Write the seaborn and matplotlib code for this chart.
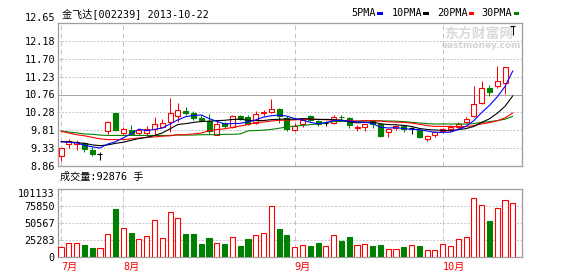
import numpy as np
import pandas as pd
import matplotlib
matplotlib.use("Agg")
import matplotlib.pyplot as plt
from matplotlib.patches import Rectangle
import seaborn as sns

# ---------------- data ----------------
open_ = [9.12, 9.43, 9.43, 9.46, 9.29, 9.19, 9.80, 10.26, 9.73, 9.81,
         9.73, 9.73, 9.83, 9.90, 10.03, 10.19, 10.32, 10.26, 10.12, 10.04,
         9.69, 9.99, 9.89, 10.19, 10.15, 9.99, 10.26, 10.29, 10.38, 10.12,
         9.82, 9.96, 10.18, 10.05, 10.00, 10.00, 10.17, 10.13, 9.88, 9.89,
         10.05, 9.97, 9.75, 9.87, 9.91, 9.87, 9.81, 9.57, 9.68, 9.78,
         9.84, 9.89, 10.02, 10.19, 10.52, 10.94, 10.99, 11.07, 12.56]
high = [9.35, 9.58, 9.55, 9.50, 9.37, 9.24, 10.04, 10.27, 9.89, 9.95,
        9.85, 9.91, 10.17, 10.10, 10.67, 10.54, 10.43, 10.31, 10.21, 10.23,
        10.05, 10.02, 10.21, 10.22, 10.21, 10.31, 10.35, 10.64, 10.40, 10.18,
        10.00, 10.13, 10.22, 10.08, 10.05, 10.20, 10.22, 10.16, 9.95, 9.98,
        10.09, 9.99, 9.85, 9.95, 9.95, 9.90, 9.83, 9.69, 9.79, 9.87,
        9.95, 10.03, 10.17, 10.98, 11.11, 11.01, 11.51, 11.49, 12.56]
low = [9.00, 9.33, 9.28, 9.24, 9.13, 9.01, 9.72, 9.80, 9.68, 9.70,
       9.68, 9.66, 9.68, 9.86, 9.77, 10.03, 10.21, 10.09, 10.03, 9.71,
       9.67, 9.88, 9.86, 10.07, 9.95, 9.96, 10.18, 10.26, 9.99, 9.78,
       9.78, 9.89, 10.05, 9.93, 9.92, 9.96, 10.06, 9.86, 9.80, 9.80,
       9.87, 9.63, 9.62, 9.82, 9.75, 9.72, 9.61, 9.52, 9.64, 9.74,
       9.77, 9.84, 10.00, 10.17, 10.50, 10.72, 10.94, 10.77, 12.32]
close = [9.34, 9.51, 9.50, 9.31, 9.18, 9.19, 10.03, 9.81, 9.83, 9.71,
         9.81, 9.83, 9.97, 10.01, 10.26, 10.34, 10.26, 10.13, 10.08, 9.78,
         9.97, 9.91, 10.19, 10.10, 9.97, 10.24, 10.28, 10.37, 10.18, 9.84,
         9.91, 10.09, 10.07, 9.98, 10.00, 10.16, 10.15, 9.94, 9.89, 9.97,
         9.98, 9.66, 9.84, 9.93, 9.85, 9.87, 9.63, 9.66, 9.76, 9.84,
         9.90, 9.97, 10.10, 10.50, 10.92, 10.83, 11.11, 11.48, 12.56]
volume = [14873, 20822, 20822, 18343, 13881, 13881, 34207, 71884, 43130, 36190,
          26771, 31232, 55028, 28754, 66926, 58003, 34703, 34703, 19830, 28754,
          20822, 19830, 29745, 16856, 27266, 32720, 35694, 75850, 42139, 33215,
          14873, 17847, 16856, 21317, 16360, 32720, 24292, 30241, 17847, 19334,
          16856, 18343, 12394, 12394, 15368, 17847, 16856, 10907, 10907, 19334,
          16856, 26771, 29745, 87748, 77337, 54037, 72875, 84773, 80312]
ma5 = [9.50, 9.49, 9.47, 9.41, 9.368, 9.338, 9.442, 9.504, 9.608, 9.714,
       9.838, 9.798, 9.83, 9.866, 9.976, 10.082, 10.168, 10.2, 10.214, 10.118,
       10.044, 9.974, 9.986, 9.99, 10.028, 10.082, 10.156, 10.192, 10.208, 10.182,
       10.116, 10.078, 10.018, 9.978, 10.01, 10.06, 10.072, 10.046, 10.028, 10.022,
       9.986, 9.888, 9.868, 9.876, 9.852, 9.83, 9.824, 9.788, 9.754, 9.752,
       9.758, 9.826, 9.914, 10.062, 10.278, 10.464, 10.692, 10.968, 11.38]
ma10 = [9.505, 9.505, 9.48, 9.46, 9.42, 9.40, 9.42, 9.46, 9.49, 9.541,
        9.588, 9.62, 9.667, 9.737, 9.845, 9.96, 9.983, 10.015, 10.04, 10.047,
        10.063, 10.071, 10.093, 10.102, 10.073, 10.063, 10.065, 10.089, 10.099, 10.105,
        10.099, 10.117, 10.105, 10.093, 10.096, 10.088, 10.075, 10.032, 10.003, 10.016,
        10.023, 9.98, 9.957, 9.952, 9.937, 9.908, 9.856, 9.828, 9.815, 9.802,
        9.794, 9.825, 9.851, 9.908, 10.015, 10.111, 10.259, 10.441, 10.721]
ma20 = [9.78, 9.735, 9.69, 9.66, 9.62, 9.58, 9.56, 9.56, 9.56, 9.58,
        9.60, 9.62, 9.63, 9.65, 9.66, 9.69, 9.69, 9.71, 9.735, 9.794,
        9.826, 9.846, 9.88, 9.92, 9.959, 10.012, 10.024, 10.052, 10.07, 10.076,
        10.081, 10.094, 10.099, 10.098, 10.085, 10.076, 10.07, 10.061, 10.051, 10.061,
        10.061, 10.049, 10.031, 10.023, 10.017, 9.998, 9.966, 9.93, 9.909, 9.909,
        9.909, 9.903, 9.904, 9.93, 9.976, 10.01, 10.058, 10.135, 10.268]
ma30 = [9.79, 9.76, 9.74, 9.71, 9.70, 9.68, 9.67, 9.67, 9.67, 9.67,
        9.67, 9.67, 9.67, 9.67, 9.67, 9.68, 9.68, 9.68, 9.69, 9.69,
        9.69, 9.70, 9.70, 9.71, 9.79, 9.80, 9.81, 9.83, 9.86, 9.898,
        9.917, 9.936, 9.955, 9.977, 10.005, 10.037, 10.041, 10.045, 10.047, 10.056,
        10.062, 10.056, 10.052, 10.049, 10.035, 10.02, 9.999, 9.983, 9.972, 9.974,
        9.972, 9.974, 9.971, 9.984, 10.016, 10.036, 10.063, 10.1, 10.18]

month_labels = ["7月", "8月", "9月", "10月"]
month_start_idx = [0, 8, 30, 49]
price_tick_labels = ["8.86", "9.33", "9.81", "10.28", "10.76", "11.23", "11.70", "12.18", "12.65"]
vol_tick_labels = ["0", "25283", "50567", "75850", "101133"]
title_text = "金飞达[002239] 2013-10-22"
vol_text = "成交量:92876 手"
legend_names = ["5PMA", "10PMA", "20PMA", "30PMA"]

# ---------------- style ----------------
sns.set_style("white")
FAM = ["DejaVu Sans Mono", "Noto Sans CJK SC"]
plt.rcParams["font.family"] = FAM
plt.rcParams["axes.unicode_minus"] = False

W, H = 578, 276
RED, GREEN, BLUE, BLACK = "#ff0000", "#008000", "#0000ff", "#000000"
FRAME = "#a0a0a0"
PX = 72 / 100.0  # one pixel in points

df = pd.DataFrame({"i": np.arange(len(close)), "open": open_, "high": high,
                   "low": low, "close": close, "volume": volume,
                   "MA5": ma5, "MA10": ma10, "MA20": ma20, "MA30": ma30})

fig = plt.figure(figsize=(W / 100, H / 100), dpi=100)
fig.patch.set_facecolor("white")
ax = fig.add_axes([58 / W, 1 - 166 / H, 464 / W, 143 / H])
axv = fig.add_axes([58 / W, 1 - 257.3 / H, 464 / W, 68 / H])

XMIN, XMAX = -0.39, 59.18
pmin, pmax = 8.86, 12.65
vmax = 101133

for a in (ax, axv):
    a.set_xlim(XMIN, XMAX)
    a.set_facecolor("white")
    for s in a.spines.values():
        s.set_color(FRAME)
        s.set_linewidth(1.3 * PX)
    a.tick_params(length=0, labelsize=7.3, colors=BLACK, pad=2.2)

ax.set_ylim(pmin, pmax)
axv.set_ylim(0, vmax)

# grid lines
pticks = np.linspace(pmin, pmax, len(price_tick_labels))
for k, y in enumerate(pticks[1:-1], start=1):
    if k == 4:
        ax.axhline(y, color="#a8a8a8", lw=1 * PX, zorder=1)
    else:
        ax.axhline(y, color="#c8c8c8", lw=1 * PX, ls=(0, (2, 1.5)), zorder=1)
vticks = np.linspace(0, vmax, len(vol_tick_labels))
for y in vticks[1:-1]:
    axv.axhline(y, color="#c8c8c8", lw=1 * PX, ls=(0, (2, 1.5)), zorder=1)
for m in month_start_idx:
    for a in (ax, axv):
        a.axvline(m, color="#c4c4c4", lw=1 * PX, ls=(0, (5, 3)), zorder=1)

# ticks
ax.set_yticks(pticks)
ax.set_yticklabels(price_tick_labels)
for lab in ax.get_yticklabels():
    if lab.get_text() == "12.65":
        lab.set_va("bottom")
ax.set_xticks([])
axv.set_yticks(vticks)
axv.set_yticklabels(vol_tick_labels)
for lab in axv.get_yticklabels():
    if lab.get_text() == "101133":
        lab.set_va("top")
axv.set_xticks(month_start_idx)
axv.set_xticklabels(month_labels, ha="left", color=RED)
axv.tick_params(axis="x", pad=3.0)

# ---------------- candles ----------------
BW = 0.64
up = df[df.close > df.open]
dn = df[df.close < df.open]
dj = df[df.close == df.open]

ax.vlines(up.i, up.close, up.high, color=RED, lw=1 * PX, zorder=3)
ax.vlines(up.i, up.low, up.open, color=RED, lw=1 * PX, zorder=3)
ax.bar(up.i, up.close - up.open, bottom=up.open, width=BW, facecolor="white",
       edgecolor=RED, linewidth=1.1 * PX, zorder=4)

ax.vlines(dn.i, dn.low, dn.high, color=GREEN, lw=1 * PX, zorder=3)
ax.bar(dn.i, dn.open - dn.close, bottom=dn.close, width=BW, facecolor=GREEN,
       edgecolor=GREEN, linewidth=1.1 * PX, zorder=4)

ax.vlines(dj.i, dj.low, dj.high, color=BLACK, lw=1 * PX, zorder=3)
ax.hlines(dj.close, dj.i - BW / 2, dj.i + BW / 2, color=BLACK, lw=1.2 * PX, zorder=4)

# moving averages
for col, colr in (("MA30", GREEN), ("MA20", RED), ("MA10", BLACK), ("MA5", BLUE)):
    sns.lineplot(data=df, x="i", y=col, ax=ax, color=colr, lw=1.1 * PX,
                 estimator=None, sort=False, zorder=5, legend=False)
ax.set_xlabel("")
ax.set_ylabel("")

# ---------------- volume ----------------
vup = df[df.close >= df.open]
vdn = df[df.close < df.open]
VW = 0.66
axv.bar(vup.i, vup.volume, width=VW, facecolor="white", edgecolor=RED,
        linewidth=1.1 * PX, zorder=3)
axv.bar(vdn.i, vdn.volume, width=VW, facecolor=GREEN, edgecolor=GREEN,
        linewidth=1.1 * PX, zorder=3)
axv.set_xlabel("")
axv.set_ylabel("")

# ---------------- texts ----------------
def fx(x):
    return x / W


def fy(y):
    return 1 - y / H


fig.text(fx(61.5), fy(13.3), title_text, fontsize=7.3, va="center", ha="left",
         family=FAM, color=BLACK)
fig.text(fx(60), fy(176.8), vol_text, fontsize=7.3, va="center", ha="left",
         family=FAM, color=BLACK)

leg_x = [351, 391.7, 436.7, 481.7]
leg_mark = [377.3, 423.3, 469.0, 514.0]
leg_col = [BLUE, BLACK, RED, GREEN]
for name, tx, mx, c in zip(legend_names, leg_x, leg_mark, leg_col):
    fig.text(fx(tx), fy(13.3), name, fontsize=7.3, va="center", ha="left",
             family=FAM, color=BLACK)
    fig.add_artist(Rectangle((fx(mx), fy(14.8)), 5.4 / W, 2.6 / H,
                             transform=fig.transFigure, color=c, lw=0))

# watermark
ax.text(fx(444), fy(34), "东方财富网", transform=fig.transFigure, fontsize=10,
        fontweight="bold", color="#dadada", va="center", ha="left",
        family=["Noto Sans CJK SC"], zorder=0.5)
ax.text(fx(441.5), fy(46), "eastmoney.com", transform=fig.transFigure, fontsize=6.5,
        fontweight="bold", color="#d4d4d4", va="center", ha="left",
        family=["DejaVu Sans"], zorder=0.5)

fig.savefig("out.png", dpi=100, facecolor="white")
